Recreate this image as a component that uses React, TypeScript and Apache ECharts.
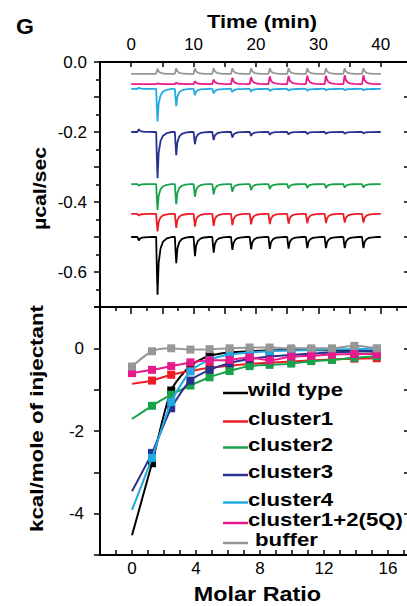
import React, { useEffect, useRef } from 'react';
import * as echarts from 'echarts';

const FONT = '"Liberation Sans", Arial, Helvetica, sans-serif';

const seriesNames = ['wild type', 'cluster1', 'cluster2', 'cluster3', 'cluster4', 'cluster1+2(5Q)', 'buffer'];
const seriesColors = ['#000000', '#ed1c24', '#17a24b', '#27318f', '#22a9e1', '#e8198b', '#979797'];

// ---- Top panel: raw ITC thermogram (µcal/sec vs time) ----
const timeStart = 0;
const timeEnd = 40;
const injectionTimes = [1.1, 4.1, 7.1, 10.1, 13.1, 16.1, 19.1, 22.1, 25.1, 28.1, 31.1, 34.1, 37.1];
// shape of one injection peak: time offset (min) and fraction of the peak height
const peakOffsets = [-0.1, 0, 0.12, 0.3, 0.6, 1.0, 1.6, 2.4];
const peakProfile = [0, 0.5, 1, 0.45, 0.2, 0.08, 0.025, 0];
const thermoBaselines = [-0.5, -0.434, -0.349, -0.2, -0.077, -0.063, -0.034];
const wildTypePeaks = [-0.01, -0.165, -0.075, -0.055, -0.045, -0.037, -0.035, -0.034, -0.033, -0.032, -0.032, -0.032, -0.032];
const cluster1Peaks = [-0.005, -0.05, -0.04, -0.036, -0.034, -0.032, -0.03, -0.029, -0.028, -0.027, -0.026, -0.025, -0.025];
const cluster2Peaks = [-0.004, -0.074, -0.057, -0.036, -0.029, -0.022, -0.017, -0.014, -0.012, -0.011, -0.011, -0.01, -0.01];
const cluster3Peaks = [0.008, -0.132, -0.066, -0.035, -0.023, -0.016, -0.011, -0.008, -0.007, -0.006, -0.005, -0.005, -0.004];
const cluster4Peaks = [0.004, -0.093, -0.049, -0.018, -0.013, -0.009, -0.008, -0.006, -0.005, -0.005, -0.004, -0.004, -0.004];
const cluster12Peaks = [0, 0.002, 0.004, 0.008, 0.013, 0.018, 0.02, 0.022, 0.023, 0.024, 0.024, 0.025, 0.025];
const bufferPeaks = [0, 0.015, 0.016, 0.016, 0.016, 0.016, 0.016, 0.016, 0.016, 0.016, 0.016, 0.016, 0.016];

// ---- Bottom panel: integrated heats (kcal/mole of injectant vs molar ratio) ----
const molarRatio = [0, 1.25, 2.45, 3.65, 4.85, 6.1, 7.35, 8.6, 9.95, 11.2, 12.5, 13.9, 15.3];
const wildTypeHeat = [-4.52, -2.78, -1.02, -0.42, -0.18, -0.1, -0.07, -0.05, -0.04, -0.04, -0.05, -0.06, -0.08];
const cluster1Heat = [-0.86, -0.78, -0.64, -0.55, -0.47, -0.42, -0.38, -0.34, -0.32, -0.29, -0.27, -0.25, -0.24];
const cluster2Heat = [-1.71, -1.39, -1.12, -0.9, -0.7, -0.55, -0.43, -0.4, -0.37, -0.31, -0.28, -0.23, -0.19];
const cluster3Heat = [-3.46, -2.53, -1.45, -0.78, -0.52, -0.36, -0.26, -0.2, -0.16, -0.13, -0.1, -0.08, -0.06];
const cluster4Heat = [-3.91, -2.65, -1.3, -0.56, -0.28, -0.15, -0.1, -0.07, -0.05, -0.04, -0.03, -0.02, -0.01];
const cluster12Heat = [-0.6, -0.52, -0.43, -0.34, -0.29, -0.28, -0.22, -0.29, -0.2, -0.18, -0.15, -0.14, -0.14];
const bufferHeat = [-0.44, -0.07, 0, -0.03, -0.02, 0, 0.02, 0.02, 0, 0, 0, 0.06, 0];
const firstPointMarked = [false, false, false, false, false, true, true];

const thermoPeaks = [wildTypePeaks, cluster1Peaks, cluster2Peaks, cluster3Peaks, cluster4Peaks, cluster12Peaks, bufferPeaks];
const heats = [wildTypeHeat, cluster1Heat, cluster2Heat, cluster3Heat, cluster4Heat, cluster12Heat, bufferHeat];

// legend layout
const legendRowY = [389.5, 418, 444, 471.5, 499, 519.5, 539.5];

function thermogram(base: number, peaks: number[]) {
  const pts: number[][] = [[timeStart, base]];
  injectionTimes.forEach((t, i) => {
    peakOffsets.forEach((o, k) => {
      pts.push([t + o, base + peaks[i] * peakProfile[k]]);
    });
  });
  pts.push([timeEnd, base]);
  return pts;
}

const axisLine = { show: true, onZero: false, lineStyle: { color: '#000', width: 2 } };
const tickStyle = { color: '#000', width: 1.5 };
const labelBase = { color: '#000', fontSize: 17, fontFamily: FONT };

export default function App() {
  const ref = useRef<HTMLDivElement>(null);

  useEffect(() => {
    if (!ref.current) return;
    const chart = echarts.init(ref.current, null, { renderer: 'svg' });

    const thermoSeries = seriesNames.map((name, i) => ({
      name,
      type: 'line',
      xAxisIndex: 0,
      yAxisIndex: 0,
      data: thermogram(thermoBaselines[i], thermoPeaks[i]),
      showSymbol: false,
      symbol: 'none',
      lineStyle: { color: seriesColors[i], width: 1.8 },
      itemStyle: { color: seriesColors[i] },
      z: 3,
    }));

    const heatSeries = seriesNames.map((name, i) => ({
      name,
      type: 'line',
      xAxisIndex: 2,
      yAxisIndex: 2,
      smooth: 0.25,
      data: heats[i].map((v, j) =>
        j === 0 && !firstPointMarked[i]
          ? { value: [molarRatio[j], v], symbol: 'none' }
          : { value: [molarRatio[j], v] }
      ),
      symbol: 'rect',
      symbolSize: 8,
      lineStyle: { color: seriesColors[i], width: 2 },
      itemStyle: { color: seriesColors[i] },
      z: 3 + i,
    }));

    const legendGraphics: any[] = [];
    seriesNames.forEach((name, i) => {
      legendGraphics.push({
        type: 'line',
        shape: { x1: 223, y1: legendRowY[i] + 3.5, x2: 248, y2: legendRowY[i] + 3.5 },
        style: { stroke: seriesColors[i], lineWidth: 2.5 },
        z: 10,
      });
      legendGraphics.push({
        type: 'text',
        x: i === 6 ? 255 : 248,
        y: legendRowY[i],
        scaleX: 1.17,
        z: 10,
        style: {
          text: name,
          x: 0,
          y: 0,
          fill: '#000',
          font: `bold 19px ${FONT}`,
          align: 'left',
          verticalAlign: 'middle',
          textAlign: 'left',
          textVerticalAlign: 'middle',
        },
      });
    });

    const titleText = (text: string, x: number, y: number, size: number, sx: number, rot = 0, align = 'center') => ({
      type: 'text',
      x,
      y,
      scaleX: sx,
      rotation: rot,
      z: 10,
      style: {
        text,
        x: 0,
        y: 0,
        fill: '#000',
        font: `bold ${size}px ${FONT}`,
        align,
        verticalAlign: 'middle',
        textAlign: align,
        textVerticalAlign: 'middle',
      },
    });

    const option: any = {
      animation: false,
      backgroundColor: '#fff',
      grid: [
        { left: 100, right: 8, top: 62, height: 245 },
        { left: 100, right: 8, top: 307, height: 248 },
      ],
      xAxis: [
        {
          gridIndex: 0,
          type: 'value',
          position: 'top',
          min: -5,
          max: 45,
          interval: 5,
          axisLine,
          axisTick: { show: true, inside: true, length: 5, lineStyle: tickStyle },
          axisLabel: {
            ...labelBase,
            margin: 9,
            formatter: (v: number) => (v >= 0 && v <= 40 && Math.round(v) % 10 === 0 ? String(Math.round(v)) : ''),
          },
          splitLine: { show: false },
        },
        {
          gridIndex: 0,
          type: 'value',
          position: 'bottom',
          min: -5,
          max: 45,
          interval: 5,
          axisLine,
          axisTick: { show: true, inside: false, length: 7, lineStyle: tickStyle },
          minorTick: { show: true, splitNumber: 2, length: 4, lineStyle: tickStyle },
          axisLabel: { show: false },
          splitLine: { show: false },
        },
        {
          gridIndex: 1,
          type: 'value',
          position: 'bottom',
          min: -2,
          max: 17.5,
          interval: 1,
          axisLine,
          axisTick: { show: true, inside: true, length: 5, lineStyle: tickStyle },
          axisLabel: {
            ...labelBase,
            margin: 5,
            formatter: (v: number) => (v >= 0 && v <= 16 && Math.round(v) % 4 === 0 ? String(Math.round(v)) : ''),
          },
          splitLine: { show: false },
        },
      ],
      yAxis: [
        {
          gridIndex: 0,
          type: 'value',
          position: 'left',
          min: -0.7,
          max: 0,
          interval: 0.1,
          axisLine,
          axisTick: { show: true, inside: false, length: 6, lineStyle: tickStyle },
          minorTick: { show: true, splitNumber: 2, length: 4, lineStyle: tickStyle },
          axisLabel: {
            ...labelBase,
            margin: 13,
            formatter: (v: number) => {
              const r = Math.round(v * 10);
              if (r % 2 !== 0) return '';
              return r === 0 ? '0.0' : (r / 10).toFixed(1);
            },
          },
          splitLine: { show: false },
        },
        {
          gridIndex: 0,
          type: 'value',
          position: 'right',
          min: -0.7,
          max: 0,
          interval: 0.1,
          axisLine,
          axisTick: { show: true, inside: true, length: 8, lineStyle: tickStyle },
          axisLabel: { show: false },
          splitLine: { show: false },
        },
        {
          gridIndex: 1,
          type: 'value',
          position: 'left',
          min: -5,
          max: 1,
          interval: 1,
          axisLine,
          axisTick: { show: true, inside: false, length: 6, lineStyle: tickStyle },
          axisLabel: {
            ...labelBase,
            margin: 16,
            formatter: (v: number) => (Math.round(v) % 2 === 0 ? String(Math.round(v)) : ''),
          },
          splitLine: { show: false },
        },
        {
          gridIndex: 1,
          type: 'value',
          position: 'right',
          min: -5,
          max: 1,
          interval: 1,
          axisLine,
          axisTick: { show: true, inside: true, length: 8, lineStyle: tickStyle },
          axisLabel: { show: false },
          splitLine: { show: false },
        },
      ],
      series: [...thermoSeries, ...heatSeries],
      graphic: [
        titleText('G', 16, 26.5, 22, 1.05, 0, 'left'),
        titleText('Time (min)', 262, 21.5, 19, 1.15),
        titleText('µcal/sec', 39, 188.5, 19, 1.12, Math.PI / 2),
        titleText('kcal/mole of injectant', 36.5, 418.5, 19, 1.175, Math.PI / 2),
        titleText('Molar Ratio', 257.5, 595, 19.5, 1.2),
        ...legendGraphics,
      ],
    };

    chart.setOption(option);
    return () => chart.dispose();
  }, []);

  return (
    <div
      ref={ref}
      style={{ position: 'fixed', left: 0, top: 0, width: 420, height: 606, background: '#fff' }}
    />
  );
}
